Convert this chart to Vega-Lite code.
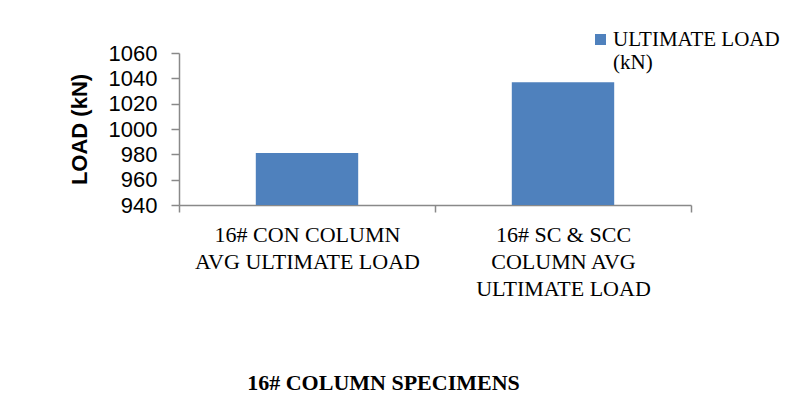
{
  "$schema": "https://vega.github.io/schema/vega-lite/v6.json",
  "width": 512,
  "height": 152,
  "autosize": {"type": "none"},
  "padding": {"left": 179, "top": 53, "right": 100, "bottom": 200},
  "background": "white",
  "data": {
    "values": [
      {"specimen": "16# CON COLUMN\nAVG ULTIMATE LOAD", "series": "ULTIMATE LOAD\n(kN)", "load": 981},
      {"specimen": "16# SC & SCC\nCOLUMN AVG\nULTIMATE LOAD", "series": "ULTIMATE LOAD\n(kN)", "load": 1037}
    ]
  },
  "mark": {"type": "bar", "width": {"band": 0.4}, "clip": true},
  "encoding": {
    "x": {
      "field": "specimen",
      "type": "nominal",
      "sort": null,
      "scale": {"paddingInner": 0, "paddingOuter": 0},
      "axis": {
        "title": "16# COLUMN SPECIMENS",
        "titleFont": "Liberation Serif",
        "titleFontSize": 22,
        "titleFontWeight": "bold",
        "titleColor": "black",
        "titleX": 204,
        "titleY": 184,
        "titleAlign": "center",
        "titleBaseline": "alphabetic",
        "labelAngle": 0,
        "labelExpr": "split(datum.label, '\\n')",
        "labelFont": "Liberation Serif",
        "labelFontSize": 22,
        "labelColor": "black",
        "labelLineHeight": 27,
        "labelPadding": 12,
        "labelLimit": 400,
        "tickBand": "extent",
        "tickSize": 7,
        "tickColor": "#898989",
        "tickWidth": 1.5,
        "domainColor": "#898989",
        "domainWidth": 1.5,
        "grid": false
      }
    },
    "y": {
      "field": "load",
      "type": "quantitative",
      "scale": {"domain": [940, 1060], "nice": false, "zero": false, "clamp": true},
      "axis": {
        "title": "LOAD (kN)",
        "titleFont": "Liberation Sans",
        "titleFontSize": 22,
        "titleFontWeight": "bold",
        "titleColor": "black",
        "titlePadding": 17,
        "values": [940, 960, 980, 1000, 1020, 1040, 1060],
        "format": "d",
        "labelFont": "Liberation Sans",
        "labelFontSize": 22,
        "labelColor": "black",
        "labelPadding": 14,
        "tickSize": 8,
        "tickColor": "#898989",
        "tickWidth": 1.5,
        "domainColor": "#898989",
        "domainWidth": 1.5,
        "grid": false
      }
    },
    "color": {
      "field": "series",
      "type": "nominal",
      "scale": {"range": ["#4F81BD"]},
      "legend": {
        "title": null,
        "orient": "none",
        "legendX": 411,
        "legendY": -24,
        "padding": 0,
        "symbolType": "square",
        "symbolSize": 121,
        "symbolStrokeWidth": 0,
        "labelExpr": "split(datum.label, '\\n')",
        "labelFont": "Liberation Serif",
        "labelFontSize": 21,
        "labelColor": "black",
        "labelLineHeight": 22,
        "labelLimit": 300,
        "labelOffset": 2
      }
    }
  },
  "config": {
    "view": {"stroke": null}
  }
}
